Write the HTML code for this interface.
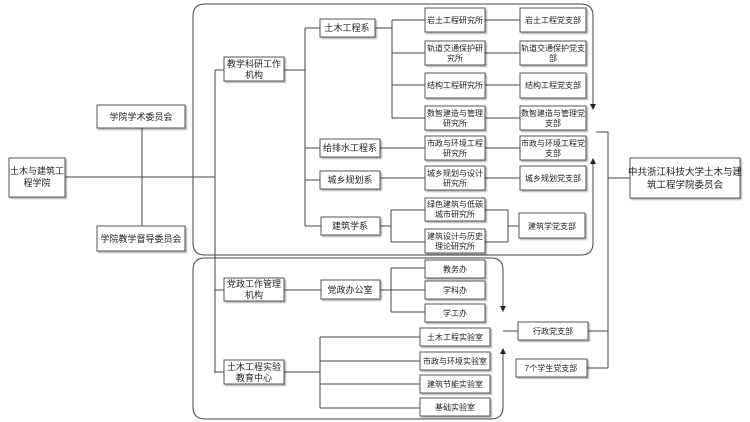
<!DOCTYPE html>
<html><head><meta charset="utf-8"><style>
html,body{margin:0;padding:0;background:#fff;}
svg{display:block;}
text{font-family:"Liberation Sans","Noto Sans CJK SC",sans-serif;font-size:9px;fill:#222;text-anchor:middle;}
text.s{font-size:8px;}
.b{fill:#fff;stroke:#555;stroke-width:1;filter:url(#sh);}
.l{stroke:#444;stroke-width:1;fill:none;}
</style></head><body>
<svg width="750" height="422" viewBox="0 0 750 422" xmlns="http://www.w3.org/2000/svg">
<defs>
<filter id="sh" x="-10%" y="-10%" width="130%" height="140%"><feDropShadow dx="1.5" dy="1.5" stdDeviation="0.8" flood-color="#000" flood-opacity="0.3"/></filter>
</defs>
<path class="l" d="M593,106 L593,16 Q593,4 581,4 L205,4 Q193,4 193,16 L193,243 Q193,255 205,255 L581,255 Q593,255 593,243 L593,162"/>
<path class="l" d="M503,308 L503,270 Q503,258 491,258 L205,258 Q193,258 193,270 L193,407 Q193,419 205,419 L491,419 Q503,419 503,407 L503,352"/>
<path d="M590,104 L596,104 L593,110 Z" fill="#222"/>
<path d="M590,164 L596,164 L593,158 Z" fill="#222"/>
<path d="M500,306 L506,306 L503,312 Z" fill="#222"/>
<path d="M500,354 L506,354 L503,348 Z" fill="#222"/>
<path class="l" d="M65,177 H215 M142,128 V226 M215,70 V373 M215,70 H224 M215,290 H224 M215,372 H224"/>
<path class="l" d="M284,70 H305 M305,28 V226 M305,28 H320 M305,148 H320 M305,180 H320 M305,226 H321"/>
<path class="l" d="M375,28 H392 M392,20 V118 M392,20 H425 M392,53 H425 M392,85 H425 M392,118 H425"/>
<path class="l" d="M380,148 H425 M380,178 H425 M485,20 H520 M485,53 H520 M485,85 H520 M485,118 H520 M485,148 H520 M485,178 H520"/>
<path class="l" d="M380,226 H391 M391,210 V242 M391,210 H425 M391,242 H425 M485,210 H508 M508,210 V242 M485,242 H508 M508,226 H519"/>
<path class="l" d="M284,290 H321 M380,290 H391 M391,268 V312 M391,268 H425 M391,290 H425 M391,312 H425"/>
<path class="l" d="M284,372 H320 M320,337 V408 M320,337 H420 M320,361 H420 M320,384 H420 M320,408 H420"/>
<path class="l" d="M596,132 H608 V368 M608,178 H630 M503,331 H518 M588,331 H608 M587,368 H608"/>
<rect class="b" x="9" y="158" width="56" height="39"/><text x="37" y="174">土木与建筑工</text><text x="37" y="186">程学院</text>
<rect class="b" x="97" y="105" width="88" height="23"/><text x="141" y="120">学院学术委员会</text>
<rect class="b" x="97" y="226" width="88" height="25"/><text x="141" y="242">学院教学督导委员会</text>
<rect class="b" x="224" y="57" width="60" height="24"/><text x="254" y="67">教学科研工作</text><text x="254" y="78">机构</text>
<rect class="b" x="320" y="19" width="55" height="18"/><text x="347" y="31">土木工程系</text>
<rect class="b" x="320" y="139" width="60" height="18"/><text x="350" y="151">给排水工程系</text>
<rect class="b" x="320" y="171" width="60" height="18"/><text x="350" y="183">城乡规划系</text>
<rect class="b" x="321" y="217" width="59" height="18"/><text x="350" y="229">建筑学系</text>
<rect class="b" x="425" y="8" width="60" height="24"/><text class="s" x="455" y="23">岩土工程研究所</text>
<rect class="b" x="425" y="41" width="60" height="24"/><text class="s" x="455" y="51">轨道交通保护研</text><text class="s" x="455" y="61">究所</text>
<rect class="b" x="425" y="73" width="60" height="25"/><text class="s" x="455" y="88">结构工程研究所</text>
<rect class="b" x="425" y="106" width="60" height="24"/><text class="s" x="455" y="116">数智建造与管理</text><text class="s" x="455" y="126">研究所</text>
<rect class="b" x="425" y="136" width="60" height="24"/><text class="s" x="455" y="146">市政与环境工程</text><text class="s" x="455" y="156">研究所</text>
<rect class="b" x="425" y="166" width="60" height="24"/><text class="s" x="455" y="176">城乡规划与设计</text><text class="s" x="455" y="186">研究所</text>
<rect class="b" x="425" y="198" width="60" height="23"/><text class="s" x="455" y="207">绿色建筑与低碳</text><text class="s" x="455" y="217">城市研究所</text>
<rect class="b" x="425" y="229" width="60" height="24"/><text class="s" x="455" y="239">建筑设计与历史</text><text class="s" x="455" y="249">理论研究所</text>
<rect class="b" x="520" y="8" width="66" height="24"/><text class="s" x="553" y="23">岩土工程党支部</text>
<rect class="b" x="520" y="41" width="66" height="24"/><text class="s" x="553" y="51">轨道交通保护党支</text><text class="s" x="553" y="61">部</text>
<rect class="b" x="520" y="73" width="66" height="25"/><text class="s" x="553" y="88">结构工程党支部</text>
<rect class="b" x="520" y="106" width="66" height="24"/><text class="s" x="553" y="116">数智建造与管理党</text><text class="s" x="553" y="126">支部</text>
<rect class="b" x="520" y="136" width="66" height="24"/><text class="s" x="553" y="146">市政与环境工程党</text><text class="s" x="553" y="156">支部</text>
<rect class="b" x="520" y="166" width="66" height="24"/><text class="s" x="553" y="181">城乡规划党支部</text>
<rect class="b" x="519" y="213" width="66" height="25"/><text class="s" x="552" y="229">建筑学党支部</text>
<rect class="b" x="630" y="158" width="110" height="40"/><text x="685" y="175" style="font-size:9.5px">中共浙江科技大学土木与建</text><text x="685" y="188" style="font-size:9.5px">筑工程学院委员会</text>
<rect class="b" x="224" y="278" width="60" height="23"/><text x="254" y="287">党政工作管理</text><text x="254" y="298">机构</text>
<rect class="b" x="321" y="280" width="59" height="19"/><text x="350" y="293">党政办公室</text>
<rect class="b" x="425" y="260" width="60" height="18"/><text class="s" x="455" y="272">教务办</text>
<rect class="b" x="425" y="281" width="60" height="18"/><text class="s" x="455" y="293">学科办</text>
<rect class="b" x="425" y="304" width="60" height="18"/><text class="s" x="455" y="316">学工办</text>
<rect class="b" x="224" y="360" width="60" height="24"/><text x="254" y="370">土木工程实验</text><text x="254" y="381">教育中心</text>
<rect class="b" x="420" y="328" width="70" height="18"/><text class="s" x="455" y="340">土木工程实验室</text>
<rect class="b" x="420" y="352" width="70" height="18"/><text class="s" x="455" y="364">市政与环境实验室</text>
<rect class="b" x="420" y="375" width="70" height="18"/><text class="s" x="455" y="387">建筑节能实验室</text>
<rect class="b" x="420" y="398" width="70" height="18"/><text class="s" x="455" y="410">基础实验室</text>
<rect class="b" x="518" y="322" width="70" height="18"/><text class="s" x="553" y="334">行政党支部</text>
<rect class="b" x="516" y="359" width="71" height="18"/><text class="s" x="551" y="371">7个学生党支部</text>
</svg>
</body></html>
